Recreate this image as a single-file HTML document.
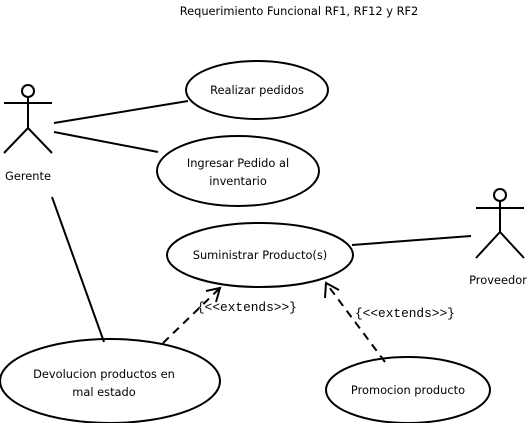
<!DOCTYPE html>
<html><head><style>body{margin:0;background:#fff}</style></head><body>
<svg width="528" height="423" viewBox="0 0 528 423" xmlns="http://www.w3.org/2000/svg" font-family="'DejaVu Sans','Liberation Sans',sans-serif" font-size="11.4">
<rect width="528" height="423" fill="#fff"/>
<text x="299" y="15" text-anchor="middle">Requerimiento Funcional RF1, RF12 y RF2</text>
<g stroke="#000" stroke-width="2" fill="none">
<circle cx="28" cy="91" r="6"/>
<line x1="4" y1="103" x2="52" y2="103"/>
<line x1="28" y1="97" x2="28" y2="128"/>
<polyline points="4,153 28,128 52,153"/>
<circle cx="500" cy="195" r="6"/>
<line x1="476" y1="208" x2="524" y2="208"/>
<line x1="500" y1="201" x2="500" y2="232"/>
<polyline points="476,258 500,232 524,258"/>
<ellipse cx="257" cy="90" rx="71" ry="29"/>
<ellipse cx="238" cy="171" rx="81" ry="35"/>
<ellipse cx="260" cy="255" rx="93" ry="32"/>
<ellipse cx="110" cy="381" rx="110" ry="42"/>
<ellipse cx="408" cy="390" rx="82" ry="33"/>
<line x1="54" y1="123" x2="188" y2="101"/>
<line x1="54" y1="132" x2="158" y2="152"/>
<line x1="52" y1="197" x2="104" y2="342"/>
<line x1="352" y1="245" x2="471" y2="236"/>
<line x1="163" y1="343" x2="220" y2="288" stroke-dasharray="8,6"/>
<polyline points="206,291 220,288 216,302"/>
<line x1="385" y1="362" x2="326" y2="283" stroke-dasharray="8,6"/>
<polyline points="325,298 326,283 339,290"/>
</g>
<text x="28" y="180" text-anchor="middle">Gerente</text>
<text x="498" y="284" text-anchor="middle">Proveedor</text>
<text x="257" y="94" text-anchor="middle">Realizar pedidos</text>
<text x="238" y="167" text-anchor="middle">Ingresar Pedido al</text>
<text x="238" y="185" text-anchor="middle">inventario</text>
<text x="260" y="259" text-anchor="middle">Suministrar Producto(s)</text>
<text x="104" y="378" text-anchor="middle">Devolucion productos en</text>
<text x="104" y="396" text-anchor="middle">mal estado</text>
<text x="408" y="394" text-anchor="middle">Promocion producto</text>
<g font-family="'Liberation Mono',monospace" font-size="12.8">
<text x="197" y="311">{&lt;&lt;extends&gt;&gt;}</text>
<text x="355" y="317">{&lt;&lt;extends&gt;&gt;}</text>
</g>
</svg>
</body></html>
